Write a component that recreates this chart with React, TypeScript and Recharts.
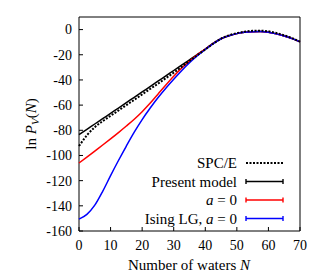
import React from "react"
import {
  LineChart, Line, XAxis, YAxis, Legend, ReferenceArea,
} from "recharts"

document.body.style.margin = "0"

// number of waters N
const waters = [0, 2.5, 5, 7.5, 10, 12.5, 15, 17.5, 20, 22.5, 25, 27.5, 30, 32.5, 35, 37.5, 40, 42.5, 45, 47.5, 50, 52.5, 55, 57.5, 60, 62.5, 65, 67.5, 70]

// ln P_V(N) for each model
const spce = [-92.5, -84, -77.5, -72.8, -68.5, -64.3, -60, -55.8, -51.5, -47.2, -43, -38.6, -34.2, -29.6, -25, -20.3, -15.8, -11.2, -7.2, -4.6, -2.8, -1.7, -1.0, -0.9, -1.4, -2.7, -4.5, -6.8, -9.6]
const present = [-83.5, -79.3, -75, -70.8, -66.5, -62.3, -58, -53.8, -49.5, -45.3, -41, -36.8, -32.5, -28.3, -24.1, -19.7, -15.5, -11, -7.3, -4.9, -3.2, -2.2, -1.7, -1.6, -2.2, -3.4, -5.1, -7.2, -9.8]
const aZero = [-106, -101.3, -96.5, -91.7, -86.8, -81.8, -76.6, -71.2, -65.2, -58.6, -51.3, -44, -37, -30.6, -25, -19.9, -15.5, -11, -7.3, -4.9, -3.2, -2.2, -1.7, -1.6, -2.2, -3.4, -5.1, -7.2, -9.8]
const isingLG = [-150.6, -146.8, -139.5, -128.5, -116, -104, -92.5, -81.5, -71.5, -62.5, -54.2, -46.6, -39.5, -32.7, -26.4, -20.8, -15.8, -11.1, -7.3, -4.9, -3.2, -2.2, -1.7, -1.6, -2.2, -3.4, -5.1, -7.2, -9.8]

const xTicks = [0, 10, 20, 30, 40, 50, 60, 70]
const yTicks = [0, -20, -40, -60, -80, -100, -120, -140, -160]

const data = waters.map((n, i) => ({
  n,
  spce: spce[i],
  present: present[i],
  aZero: aZero[i],
  ising: isingLG[i],
}))

const FONT = "'Liberation Serif', 'Times New Roman', serif"

const YTick = ({ x, y, payload }: any) => (
  <g>
    <text x={x} y={y} dy="0.35em" textAnchor="end" fontFamily={FONT} fontSize={14} fill="#000">
      {payload.value}
    </text>
    <line x1={x + 7} x2={x + 11} y1={y} y2={y} stroke="#000" strokeWidth={1} />
  </g>
)

const XTick = ({ x, y, payload }: any) => (
  <g>
    <text x={x} y={y} dy="0.35em" textAnchor="middle" fontFamily={FONT} fontSize={14} fill="#000">
      {payload.value}
    </text>
    <line x1={x} x2={x} y1={y - 14} y2={y - 18} stroke="#000" strokeWidth={1} />
  </g>
)

const YLabel = () => (
  <text
    x={0}
    y={0}
    transform="translate(36,124) rotate(-90)"
    textAnchor="middle"
    fontFamily={FONT}
    fontSize={15}
    fill="#000"
  >
    ln <tspan fontStyle="italic">P</tspan>
    <tspan fontStyle="italic" fontSize={11} dy={3}>V</tspan>
    <tspan dy={-3}>(</tspan>
    <tspan fontStyle="italic">N</tspan>)
  </text>
)

const XLabel = () => (
  <text x={189} y={265} dy="0.35em" textAnchor="middle" fontFamily={FONT} fontSize={15} fill="#000">
    Number of waters <tspan fontStyle="italic">N</tspan>
  </text>
)

const legendRows = [
  { label: <>SPC/E</>, color: "#000", dotted: true },
  { label: <>Present model</>, color: "#000", dotted: false },
  { label: <><tspan fontStyle="italic">a</tspan> = 0</>, color: "#ff0000", dotted: false },
  { label: <>Ising LG, <tspan fontStyle="italic">a</tspan> = 0</>, color: "#0000ff", dotted: false },
]

const renderLegend = () => (
  <svg width={316} height={80} style={{ display: "block" }}>
    {legendRows.map((row, i) => {
      const y = 13 + i * 18.5
      return (
        <g key={i}>
          <text x={237} y={y} dy="0.35em" textAnchor="end" fontFamily={FONT} fontSize={15} fill="#000">
            {row.label}
          </text>
          {row.dotted ? (
            <line x1={246} x2={283} y1={y} y2={y} stroke="#000" strokeWidth={2} strokeDasharray="2 1.5" />
          ) : (
            <g stroke={row.color} strokeWidth={1.4}>
              <line x1={246} x2={283} y1={y} y2={y} />
              <line x1={246} x2={246} y1={y - 2.5} y2={y + 2.5} />
              <line x1={283} x2={283} y1={y - 2.5} y2={y + 2.5} />
            </g>
          )}
        </g>
      )
    })}
  </svg>
)

export default function App() {
  return (
    <LineChart width={316} height={277} data={data} margin={{ top: 17, right: 16, bottom: 0, left: 0 }}>
      <XAxis
        dataKey="n"
        type="number"
        domain={[0, 70]}
        ticks={xTicks}
        interval={0}
        height={46}
        tickSize={0}
        tickMargin={14}
        tick={<XTick />}
        axisLine={false}
        tickLine={false}
        label={{ content: XLabel }}
      />
      <YAxis
        type="number"
        domain={[-160, 10]}
        ticks={yTicks}
        interval={0}
        width={79}
        tickSize={0}
        tickMargin={7}
        tick={<YTick />}
        axisLine={false}
        tickLine={false}
        label={{ content: YLabel }}
      />
      <ReferenceArea x1={0} x2={70} y1={-160} y2={10} fill="none" stroke="#000" strokeWidth={1} ifOverflow="visible" />
      <Line dataKey="present" type="monotone" stroke="#000" strokeWidth={1.5} dot={false} isAnimationActive={false} />
      <Line dataKey="aZero" type="monotone" stroke="#ff0000" strokeWidth={1.5} dot={false} isAnimationActive={false} />
      <Line dataKey="ising" type="monotone" stroke="#0000ff" strokeWidth={1.5} dot={false} isAnimationActive={false} />
      <Line dataKey="spce" type="monotone" stroke="#000" strokeWidth={2} strokeDasharray="2 1.5" dot={false} isAnimationActive={false} />
      <Legend
        layout="horizontal"
        align="center"
        verticalAlign="middle"
        content={renderLegend}
        wrapperStyle={{ position: "absolute", left: 0, top: 150, width: 316, height: 80 }}
      />
    </LineChart>
  )
}
